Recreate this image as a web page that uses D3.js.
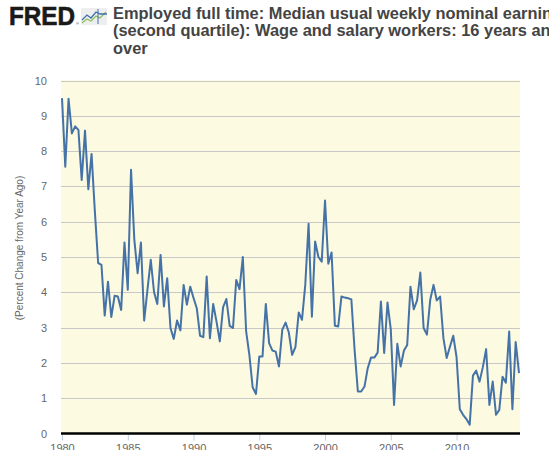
<!DOCTYPE html>
<html>
<head>
<meta charset="utf-8">
<script src="https://cdn.jsdelivr.net/npm/d3@7"></script>
<style>
html,body{margin:0;padding:0;background:#fff;overflow:hidden;}
svg{display:block;font-family:"Liberation Sans",Arial,Helvetica,sans-serif;}
</style>
</head>
<body>
<svg id="chart" width="549" height="450"></svg>
<script>
// ---- data ----
const startQuarter = "1980-01-01"; // first observation, quarterly
const values = [
  9.50, 7.56, 9.48, 8.50, 8.70, 8.60, 7.18, 8.58, 6.92, 7.92,
  6.30, 4.83, 4.78, 3.34, 4.30, 3.30, 3.90, 3.88, 3.50, 5.41,
  4.07, 7.47, 5.50, 4.54, 5.41, 3.20, 4.07, 4.92, 4.00, 3.67,
  5.06, 3.60, 4.40, 2.99, 2.68, 3.20, 2.92, 4.21, 3.65, 4.16,
  3.84, 3.55, 2.77, 2.73, 4.45, 2.70, 3.67, 3.17, 2.61, 3.58,
  3.81, 3.05, 2.99, 4.35, 4.09, 5.00, 2.89, 2.23, 1.31, 1.12,
  2.18, 2.18, 3.67, 2.56, 2.35, 2.32, 1.90, 2.94, 3.14, 2.86,
  2.23, 2.45, 3.43, 3.22, 4.21, 5.94, 3.31, 5.44, 5.00, 4.87,
  6.60, 4.81, 5.13, 3.05, 3.03, 3.88, 3.85, 3.83, 3.80, 2.37,
  1.19, 1.19, 1.33, 1.85, 2.15, 2.15, 2.29, 3.74, 2.28, 3.71,
  2.94, 0.81, 2.54, 1.90, 2.35, 2.51, 4.16, 3.52, 3.77, 4.56,
  2.99, 2.80, 3.79, 4.21, 3.77, 3.88, 2.70, 2.14, 2.46, 2.77,
  2.16, 0.69, 0.53, 0.41, 0.25, 1.64, 1.78, 1.47, 1.88, 2.39,
  0.81, 1.47, 0.53, 0.67, 1.61, 1.44, 2.89, 0.69, 2.59, 1.71
];
const xTickYears = [1980, 1985, 1990, 1995, 2000, 2005, 2010];
const yTicks = [0, 1, 2, 3, 4, 5, 6, 7, 8, 9, 10];
const titleLines = [
  "Employed full time: Median usual weekly nominal earnings",
  "(second quartile): Wage and salary workers: 16 years and",
  "over"
];
const yAxisTitle = "(Percent Change from Year Ago)";

// ---- build ----
const parse = d3.utcParse("%Y-%m-%d");
const t0 = parse(startQuarter);
const series = values.map((v, i) => ({date: d3.utcMonth.offset(t0, 3 * i), value: v}));

const svg = d3.select("#chart");
const plot = {left: 61, right: 520, top: 80, bottom: 433.5};

const x = d3.scaleUtc()
  .domain(d3.extent(series, d => d.date))
  .range([62, 519]);
const y = d3.scaleLinear().domain([0, 10]).range([433.5, 80.5]);

// header: FRED logo
svg.append("text").attr("x", 9).attr("y", 25)
  .attr("font-size", 25).attr("font-weight", 900).attr("fill", "#1a1a1a")
  .attr("stroke", "#1a1a1a").attr("stroke-width", 0.6)
  .attr("textLength", 66).attr("lengthAdjust", "spacingAndGlyphs")
  .text("FRED");
svg.append("text").attr("x", 76).attr("y", 25).attr("font-size", 4).attr("fill", "#333").text("®");
const icon = svg.append("g").attr("transform", "translate(81,8)");
icon.append("rect").attr("width", 26).attr("height", 17).attr("fill", "#eeeeee").attr("rx", 1);
icon.append("path").attr("d", "M1,15 L6,11 L10,13 L15,8 L19,10 L25,4")
  .attr("fill", "none").attr("stroke", "#8fbf5a").attr("stroke-width", 1.3);
icon.append("path").attr("d", "M1,12 L6,7 L10,10 L15,4 L19,6 L26,6")
  .attr("fill", "none").attr("stroke", "#3f6fb0").attr("stroke-width", 1.3);
icon.append("path").attr("d", "M17,1 L17,16").attr("stroke", "#3f6fb0").attr("stroke-width", 1);

// title
const title = svg.append("text").attr("x", 113).attr("y", 18.5)
  .attr("font-size", 16.4).attr("font-weight", "bold").attr("fill", "#444");
titleLines.forEach((l, i) => {
  title.append("tspan").attr("x", 113).attr("dy", i === 0 ? 0 : 17.5).text(l);
});

// plot background
svg.append("rect")
  .attr("x", plot.left).attr("y", plot.top)
  .attr("width", plot.right - plot.left).attr("height", plot.bottom - plot.top)
  .attr("fill", "#fcfae1");

// grid lines
svg.append("g").selectAll("line").data(yTicks.filter(d => d > 0)).join("line")
  .attr("x1", plot.left).attr("x2", plot.right)
  .attr("y1", d => Math.round(y(d)) + 0.5).attr("y2", d => Math.round(y(d)) + 0.5)
  .attr("stroke", "#c8c8c8").attr("stroke-width", 1);

// y axis labels
const yAxis = d3.axisLeft(y).tickValues(yTicks).tickSize(0).tickPadding(0).tickFormat(d3.format("d"));
const gy = svg.append("g").attr("transform", "translate(47,0)").call(yAxis);
gy.select(".domain").remove();
gy.selectAll("text").attr("font-size", 11).attr("fill", "#666").attr("font-family", "Liberation Sans, Arial, sans-serif");

// x axis
const xAxis = d3.axisBottom(x)
  .tickValues(xTickYears.map(yr => new Date(Date.UTC(yr, 0, 1))))
  .tickSize(7).tickPadding(4).tickFormat(d3.utcFormat("%Y"));
const gx = svg.append("g").attr("transform", `translate(0,${plot.bottom})`).call(xAxis);
gx.select(".domain").remove();
gx.selectAll(".tick line").attr("stroke", "#c0d0e0").attr("stroke-width", 1);
gx.selectAll("text").attr("font-size", 11).attr("fill", "#666").attr("font-family", "Liberation Sans, Arial, sans-serif");
svg.append("line").attr("x1", plot.left).attr("x2", plot.right)
  .attr("y1", plot.bottom).attr("y2", plot.bottom)
  .attr("stroke", "#000").attr("stroke-width", 2.5);

// y axis title
svg.append("text")
  .attr("transform", "translate(23,248) rotate(-90)")
  .attr("text-anchor", "middle")
  .attr("font-size", 10).attr("fill", "#666")
  .text(yAxisTitle);

// line
const line = d3.line().x(d => x(d.date)).y(d => y(d.value));
svg.append("path").datum(series)
  .attr("d", line)
  .attr("fill", "none")
  .attr("stroke", "#4572a7")
  .attr("stroke-width", 2)
  .attr("stroke-linejoin", "round");
</script>
</body>
</html>
